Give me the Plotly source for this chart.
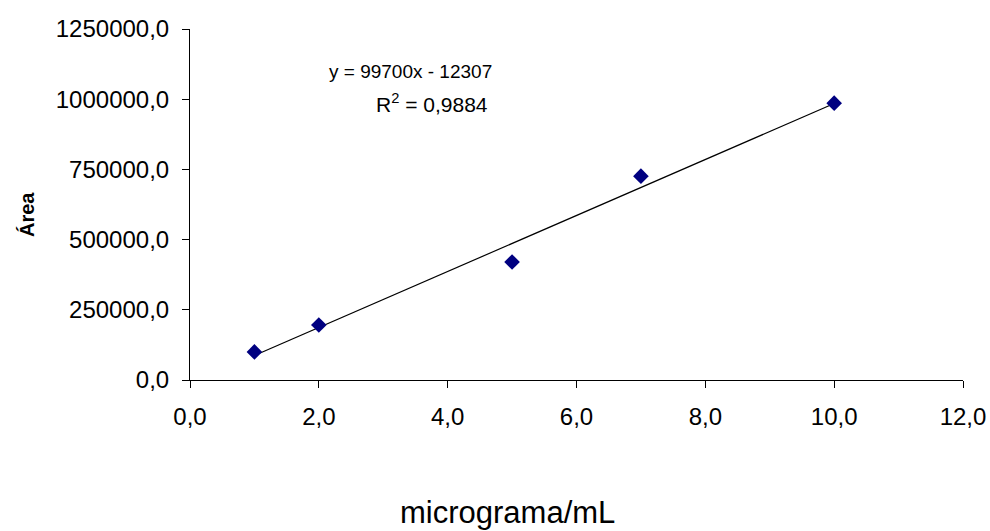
import numpy as np
import plotly.graph_objects as go

# Data
concentracao = [1, 2, 5, 7, 10]            # micrograma/mL
area = [100000, 196000, 420000, 726000, 986000]

# Trendline coefficients (as printed on the chart)
slope = 99700
intercept = -12307
r2_text = "0,9884"

x_ticks = [0, 2, 4, 6, 8, 10, 12]
y_ticks = [0, 250000, 500000, 750000, 1000000, 1250000]

font_family = "Liberation Sans, Arial, sans-serif"

# plot-area pixel bounds (for placing annotations)
PL, PR, PT, PB = 190, 963, 29, 380


def px(xp):
    return (xp - PL) / (PR - PL)


def py(yp):
    return (PB - yp) / (PB - PT)


x_line = [min(concentracao), max(concentracao)]
y_line = [slope * v + intercept for v in x_line]

fig = go.Figure()
fig.add_trace(go.Scatter(
    x=x_line, y=y_line, mode="lines",
    line=dict(color="black", width=1.2),
    showlegend=False, hoverinfo="skip",
))
fig.add_trace(go.Scatter(
    x=concentracao, y=area, mode="markers",
    marker=dict(symbol="diamond", size=12, color="#000080",
                line=dict(width=0)),
    showlegend=False,
))

fig.update_layout(
    width=990, height=531,
    margin=dict(l=PL, r=990 - PR, t=PT, b=531 - PB, autoexpand=False),
    paper_bgcolor="white", plot_bgcolor="white",
    separators=",.",
    font=dict(family=font_family, color="black", size=20),
    xaxis=dict(
        range=[0, 12], tickvals=x_ticks, tickformat=".1f",
        showgrid=False, zeroline=False, automargin=False,
        showline=True, linecolor="black", linewidth=1,
        ticks="outside", ticklen=7, tickcolor="black", tickwidth=1,
        tickfont=dict(size=24, family=font_family),
        ticklabelstandoff=8,
    ),
    yaxis=dict(
        range=[0, 1250000], tickvals=y_ticks, tickformat=".1f",
        showgrid=False, zeroline=False, automargin=False,
        showline=True, linecolor="black", linewidth=1,
        ticks="outside", ticklen=7, tickcolor="black", tickwidth=1,
        tickfont=dict(size=24, family=font_family),
        ticklabelstandoff=8,
    ),
    annotations=[
        dict(text="y = 99700x - 12307", xref="paper", yref="paper",
             x=px(410), y=py(71),
             xanchor="center", yanchor="middle", showarrow=False,
             font=dict(size=19, family=font_family)),
        dict(text="R<sup>2</sup> = " + r2_text, xref="paper", yref="paper",
             x=px(432), y=py(103),
             xanchor="center", yanchor="middle", showarrow=False,
             font=dict(size=21, family=font_family)),
        dict(text="<b>Área</b>", xref="paper", yref="paper",
             x=px(27), y=py(215),
             xanchor="center", yanchor="middle", showarrow=False,
             textangle=-90, font=dict(size=20, family=font_family)),
        dict(text="micrograma/mL", xref="paper", yref="paper",
             x=px(507), y=py(512),
             xanchor="center", yanchor="middle", showarrow=False,
             font=dict(size=31, family=font_family)),
    ],
)

fig.write_html(
    "out.html",
    config={"displayModeBar": False},
    post_script="document.body.style.margin='0';"
                "document.body.style.overflow='hidden';",
)
